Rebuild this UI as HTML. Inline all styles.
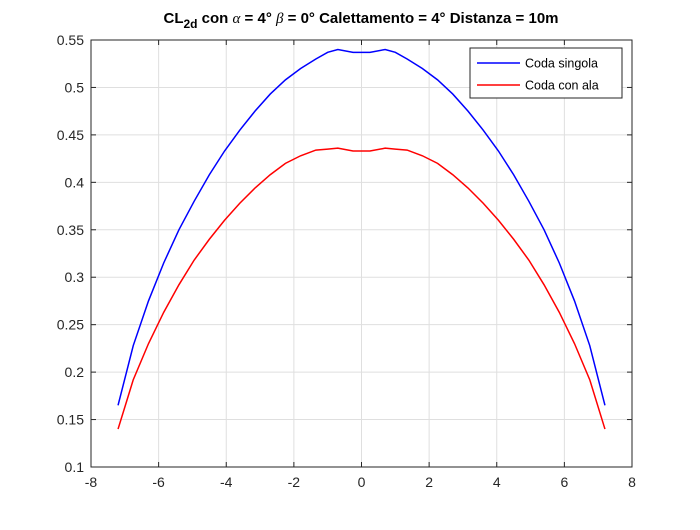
<!DOCTYPE html>
<html><head><meta charset="utf-8"><style>
body{margin:0;background:#fff;}
svg text{font-family:"Liberation Sans",sans-serif;}
</style></head><body>
<svg id="chart" width="700" height="525" xmlns="http://www.w3.org/2000/svg">
<text x="361" y="23" text-anchor="middle" font-size="15" font-weight="bold" fill="#000">CL<tspan font-size="12" dy="5">2d</tspan><tspan dy="-5"> con </tspan><tspan font-family="Liberation Serif" font-style="italic" font-weight="normal">α</tspan><tspan> = 4° </tspan><tspan font-family="Liberation Serif" font-style="italic" font-weight="normal">β</tspan><tspan> = 0° Calettamento = 4° Distanza = 10m</tspan></text>
<g id="grid"></g><g id="axes"></g><g id="series"></g>
<g>
<rect x="470" y="48" width="152" height="50" fill="#fff" stroke="#262626" stroke-width="1"/>
<line x1="477" y1="63" x2="520" y2="63" stroke="#0000ff" stroke-width="1.5"/>
<text x="525" y="67.5" font-size="12.5" fill="#000">Coda singola</text>
<line x1="477" y1="85" x2="520" y2="85" stroke="#ff0000" stroke-width="1.5"/>
<text x="525" y="89.5" font-size="12.5" fill="#000">Coda con ala</text>
</g>
</svg>
<script>
const xs = [-7.2,-6.75,-6.3,-5.85,-5.4,-4.95,-4.5,-4.05,-3.6,-3.15,-2.7,-2.25,-1.8,-1.35,-1.0,-0.7,-0.25,0.25,0.7,1.0,1.35,1.8,2.25,2.7,3.15,3.6,4.05,4.5,4.95,5.4,5.85,6.3,6.75,7.2];
const codaSingola = [0.165,0.228,0.275,0.315,0.35,0.38,0.408,0.433,0.455,0.475,0.493,0.508,0.52,0.53,0.537,0.540,0.537,0.537,0.540,0.537,0.53,0.52,0.508,0.493,0.475,0.455,0.433,0.408,0.38,0.35,0.315,0.275,0.228,0.165];
const codaConAla = [0.14,0.192,0.23,0.263,0.292,0.318,0.34,0.36,0.378,0.394,0.408,0.42,0.428,0.434,0.435,0.436,0.433,0.433,0.436,0.435,0.434,0.428,0.42,0.408,0.394,0.378,0.36,0.34,0.318,0.292,0.263,0.23,0.192,0.14];
const xTicks = [-8,-6,-4,-2,0,2,4,6,8];
const yTicks = [0.1,0.15,0.2,0.25,0.3,0.35,0.4,0.45,0.5,0.55];
const X0=91,X1=632,Y0=467,Y1=40;
const sx=v=>X0+(v+8)/16*(X1-X0);
const sy=v=>Y0-(v-0.1)/0.45*(Y0-Y1);
const NS="http://www.w3.org/2000/svg";
function mk(t,a,p){const e=document.createElementNS(NS,t);for(const k in a)e.setAttribute(k,a[k]);p.appendChild(e);return e;}
const grid=document.getElementById('grid'),axes=document.getElementById('axes'),series=document.getElementById('series');
xTicks.forEach(t=>{const x=sx(t);
 const g=mk('line',{x1:x,x2:x,y1:Y1,y2:Y0,stroke:'#dfdfdf','stroke-width':1},grid);
 
 
 mk('line',{x1:x,x2:x,y1:Y0,y2:Y0-5,stroke:'#262626'},axes);
 mk('line',{x1:x,x2:x,y1:Y1,y2:Y1+5,stroke:'#262626'},axes);
 const tx=mk('text',{x:x,y:Y0+20,'text-anchor':'middle','font-size':14,fill:'#262626'},axes);
 tx.textContent=t;
 
 
});
yTicks.forEach(t=>{const y=sy(t);
 const g=mk('line',{x1:X0,x2:X1,y1:y,y2:y,stroke:'#dfdfdf','stroke-width':1},grid);
 
 
 mk('line',{x1:X0,x2:X0+5,y1:y,y2:y,stroke:'#262626'},axes);
 mk('line',{x1:X1,x2:X1-5,y1:y,y2:y,stroke:'#262626'},axes);
 const tx=mk('text',{x:X0-7,y:y+5,'text-anchor':'end','font-size':14,fill:'#262626'},axes);
 tx.textContent=String(t).replace(/^0\.(\d)0$/,'0.$1');
 
 
});
const box=mk('rect',{x:X0,y:Y1,width:X1-X0,height:Y0-Y1,fill:'none',stroke:'#262626','stroke-width':1},axes);


function line(vals,col,name){
 const p=mk('polyline',{points:xs.map((x,i)=>sx(x)+','+sy(vals[i])).join(' '),fill:'none',stroke:col,'stroke-width':1.5},series);
 
 
}
line(codaSingola,'#0000ff','series-coda-singola');
line(codaConAla,'#ff0000','series-coda-con-ala');
</script>
</body></html>
